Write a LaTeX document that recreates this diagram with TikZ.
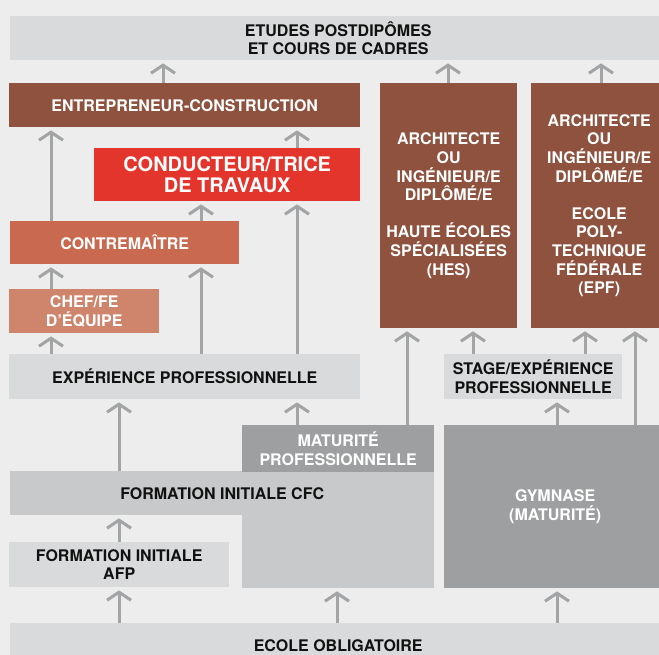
\documentclass[tikz,border=0pt]{standalone}
\usepackage{fontspec}
\setmainfont{TeX Gyre Heros}
\usetikzlibrary{arrows.meta}
\definecolor{bgc}{HTML}{ECEDEC}
\definecolor{lightc}{HTML}{D9DADB}
\definecolor{midc}{HTML}{C8C9CA}
\definecolor{darkc}{HTML}{9E9FA0}
\definecolor{brownc}{HTML}{8E523F}
\definecolor{redc}{HTML}{E4352D}
\definecolor{contc}{HTML}{C96A50}
\definecolor{chefc}{HTML}{CF856B}
\definecolor{arrc}{HTML}{A3A4A5}
\definecolor{inkc}{HTML}{111111}
\tikzset{
  box/.style={rectangle, inner sep=0pt, anchor=north west, align=center,
    font=\bfseries\fontsize{16}{18.6}\selectfont},
  lightbox/.style={box, fill=lightc, text=inkc},
  midbox/.style={box, fill=midc, text=inkc},
  darkbox/.style={box, fill=darkc, text=white},
  brownbox/.style={box, fill=brownc, text=white},
  redbox/.style={box, fill=redc, text=white, font=\bfseries\fontsize{20}{21}\selectfont},
  contbox/.style={box, fill=contc, text=white},
  chefbox/.style={box, fill=chefc, text=white},
  sz/.style 2 args={minimum width=#1pt, minimum height=#2pt},
  arr/.style={draw=arrc, line width=3pt, line join=miter,
    -{Straight Barb[length=8pt, width=24pt, line width=3pt]}, shorten >=3pt}
}
\begin{document}
\begin{tikzpicture}[x=1pt, y=-1pt]
\useasboundingbox[fill=bgc] (0,0) rectangle (659,655);
% columns for connectors
\foreach \c in {51,119,163,201,297,337,407,448,473,557,585,601,635}
  \coordinate (c\c) at (\c,0);
% boxes
\node[lightbox, sz={656}{44}] (etudes) at (10,16) {ETUDES POSTDIPÔMES\\ET COURS DE CADRES};
\node[brownbox, sz={351}{44}] (entre) at (9,83) {ENTREPRENEUR-CONSTRUCTION};
\node[brownbox, sz={137}{245}] (hes) at (380,83) {ARCHITECTE\\OU\\INGÉNIEUR/E\\DIPLÔMÉ/E\\[18.6pt]HAUTE ÉCOLES\\SPÉCIALISÉES\\(HES)};
\node[brownbox, sz={136}{245}] (epf) at (531,83) {ARCHITECTE\\OU\\INGÉNIEUR/E\\DIPLÔMÉ/E\\[18.6pt]ECOLE\\POLY-\\TECHNIQUE\\FÉDÉRALE\\(EPF)};
\node[redbox, sz={266}{53}] (cond) at (94,148) {CONDUCTEUR/TRICE\\DE TRAVAUX};
\node[contbox, sz={229}{43}] (contre) at (10,221) {CONTREMAÎTRE};
\node[chefbox, sz={150}{44}] (chef) at (9,289) {CHEF/FE\\D’ÉQUIPE};
\node[lightbox, sz={351}{45}] (exp) at (9,354) {EXPÉRIENCE PROFESSIONNELLE};
\node[lightbox, sz={178}{45}] (stage) at (444,354) {STAGE/EXPÉRIENCE\\PROFESSIONNELLE};
\node[midbox, sz={424}{44}] (cfc) at (10,471) {FORMATION INITIALE CFC};
\node[midbox, sz={192}{73}] (cfcx) at (242,515) {};
\node[darkbox, sz={192}{47}] (matu) at (242,425) {MATURITÉ\\PROFESSIONNELLE};
\node[darkbox, sz={222}{163}] (gym) at (444,425) {GYMNASE\\(MATURITÉ)};
\node[lightbox, sz={220}{45}] (afp) at (9,542) {FORMATION INITIALE\\AFP};
\node[lightbox, sz={656}{44}] (ecole) at (10,623) {ECOLE OBLIGATOIRE};
% connectors
\draw[arr] (entre.north -| c163) -- (etudes.south -| c163);
\draw[arr] (hes.north -| c448) -- (etudes.south -| c448);
\draw[arr] (epf.north -| c601) -- (etudes.south -| c601);
\draw[arr] (contre.north -| c51) -- (entre.south -| c51);
\draw[arr] (cond.north -| c297) -- (entre.south -| c297);
\draw[arr] (contre.north -| c201) -- (cond.south -| c201);
\draw[arr] (exp.north -| c297) -- (cond.south -| c297);
\draw[arr] (chef.north -| c51) -- (contre.south -| c51);
\draw[arr] (exp.north -| c201) -- (contre.south -| c201);
\draw[arr] (exp.north -| c51) -- (chef.south -| c51);
\draw[arr] (cfc.north -| c119) -- (exp.south -| c119);
\draw[arr] (matu.north -| c297) -- (exp.south -| c297);
\draw[arr] (matu.north -| c407) -- (hes.south -| c407);
\draw[arr] (stage.north -| c473) -- (hes.south -| c473);
\draw[arr] (stage.north -| c585) -- (epf.south -| c585);
\draw[arr] (gym.north -| c557) -- (stage.south -| c557);
\draw[arr] (gym.north -| c635) -- (epf.south -| c635);
\draw[arr] (afp.north -| c119) -- (cfc.south -| c119);
\draw[arr] (ecole.north -| c119) -- (afp.south -| c119);
\draw[arr] (ecole.north -| c337) -- (cfcx.south -| c337);
\draw[arr] (ecole.north -| c557) -- (gym.south -| c557);
\end{tikzpicture}
\end{document}
